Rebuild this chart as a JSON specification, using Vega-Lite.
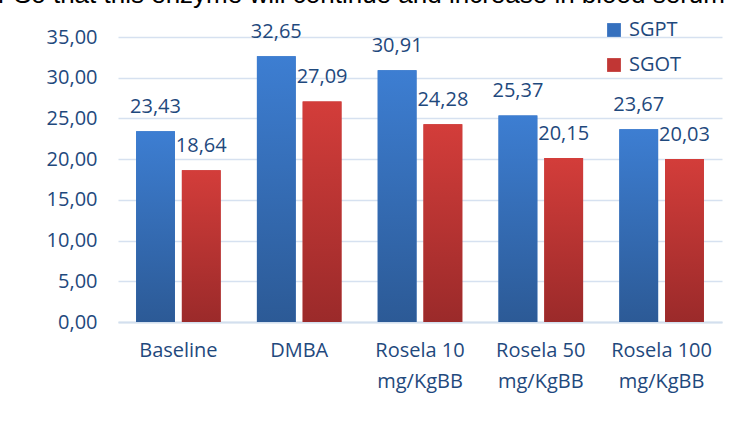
{
  "$schema": "https://vega.github.io/schema/vega-lite/v6.json",
  "width": 604,
  "height": 285,
  "autosize": {"type": "none"},
  "padding": {"left": 118, "top": 37, "right": 18, "bottom": 99},
  "background": "white",
  "title": {
    "text": "r So that this enzyme will continue and increase in blood serum",
    "font": "Liberation Sans",
    "fontSize": 26,
    "fontWeight": "normal",
    "color": "#000000",
    "anchor": "start",
    "frame": "group",
    "dx": -120,
    "offset": 12
  },
  "data": {
    "values": [
      {"group": "Baseline", "series": "SGPT", "value": 23.43},
      {"group": "Baseline", "series": "SGOT", "value": 18.64},
      {"group": "DMBA", "series": "SGPT", "value": 32.65},
      {"group": "DMBA", "series": "SGOT", "value": 27.09},
      {"group": "Rosela 10 mg/KgBB", "series": "SGPT", "value": 30.91},
      {"group": "Rosela 10 mg/KgBB", "series": "SGOT", "value": 24.28},
      {"group": "Rosela 50 mg/KgBB", "series": "SGPT", "value": 25.37},
      {"group": "Rosela 50 mg/KgBB", "series": "SGOT", "value": 20.15},
      {"group": "Rosela 100 mg/KgBB", "series": "SGPT", "value": 23.67},
      {"group": "Rosela 100 mg/KgBB", "series": "SGOT", "value": 20.03}
    ]
  },
  "encoding": {
    "x": {
      "field": "group",
      "type": "nominal",
      "sort": null,
      "scale": {"paddingInner": 0.3, "paddingOuter": 0.15},
      "axis": {
        "title": null,
        "labelAngle": 0,
        "labelExpr": "indexof(datum.label, ' mg') > 0 ? [slice(datum.label, 0, indexof(datum.label, ' mg')), 'mg/KgBB'] : datum.label",
        "labelLineHeight": 31,
        "labelPadding": 18,
        "labelFontSize": 20,
        "labelColor": "#1F497D",
        "ticks": false,
        "domainColor": "#D3DFEE",
        "domainWidth": 2,
        "grid": false
      }
    },
    "xOffset": {
      "field": "series",
      "type": "nominal",
      "sort": ["SGPT", "SGOT"],
      "scale": {"paddingInner": 0.152, "paddingOuter": 0}
    },
    "y": {
      "field": "value",
      "type": "quantitative",
      "scale": {"domain": [0, 35], "nice": false},
      "axis": {
        "title": null,
        "values": [0, 5, 10, 15, 20, 25, 30, 35],
        "labelExpr": "replace(format(datum.value, '.2f'), '.', ',')",
        "labelFontSize": 20,
        "labelColor": "#1F497D",
        "labelPadding": 21,
        "ticks": false,
        "domain": false,
        "gridColor": "#D6E1F0",
        "gridWidth": 1.6
      }
    }
  },
  "layer": [
    {
      "mark": {"type": "bar"},
      "encoding": {
        "color": {
          "field": "series",
          "type": "nominal",
          "sort": ["SGPT", "SGOT"],
          "scale": {"domain": ["SGPT", "SGOT"], "range": ["#3570BE", "#C13634"]},
          "legend": {
            "title": null,
            "orient": "none",
            "legendX": 486,
            "legendY": -17,
            "symbolType": "square",
            "symbolSize": 190,
            "symbolStrokeWidth": 0,
            "labelFontSize": 20,
            "labelColor": "#1F497D",
            "labelOffset": 5,
            "rowPadding": 15,
            "padding": 0
          }
        }
      }
    },
    {
      "transform": [{"filter": "datum.series == 'SGPT'"}],
      "mark": {
        "type": "bar",
        "color": {
          "gradient": "linear",
          "x1": 0, "y1": 0, "x2": 0, "y2": 1,
          "stops": [
            {"offset": 0, "color": "#3D7ED2"},
            {"offset": 1, "color": "#2C5A96"}
          ]
        }
      }
    },
    {
      "transform": [{"filter": "datum.series == 'SGOT'"}],
      "mark": {
        "type": "bar",
        "color": {
          "gradient": "linear",
          "x1": 0, "y1": 0, "x2": 0, "y2": 1,
          "stops": [
            {"offset": 0, "color": "#D33D3A"},
            {"offset": 1, "color": "#9B2A2A"}
          ]
        }
      }
    },
    {
      "mark": {
        "type": "text",
        "baseline": "alphabetic",
        "align": "center",
        "dy": -18,
        "fontSize": 20,
        "color": "#1F497D"
      },
      "encoding": {
        "text": {"field": "value", "type": "quantitative", "format": ".2f"}
      }
    }
  ],
  "config": {
    "font": "Open Sans",
    "view": {"stroke": null},
    "locale": {
      "number": {"decimal": ",", "thousands": ".", "grouping": [3], "currency": ["", ""]}
    }
  }
}
